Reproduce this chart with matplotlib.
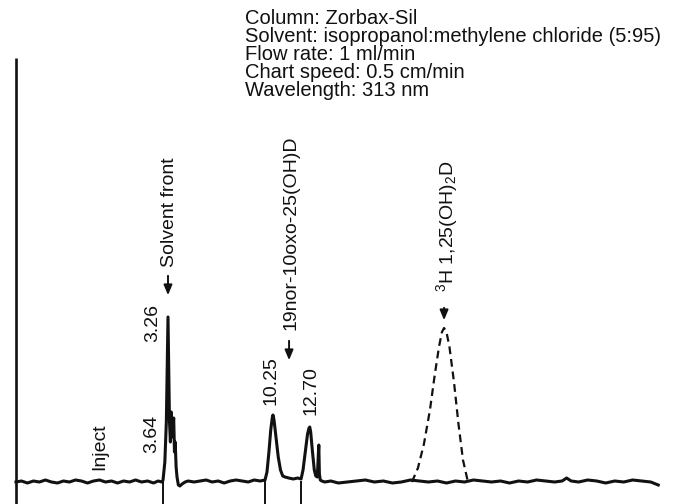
import matplotlib.pyplot as plt

plt.rcParams['font.family'] = ['Liberation Sans', 'DejaVu Sans']
plt.rcParams['mathtext.fontset'] = 'custom'
plt.rcParams['mathtext.rm'] = 'Liberation Sans'

# detector trace (time in min, signal in chart units above baseline)
trace_min = [
    -6.86, -6.5, -6.1, -5.7, -5.3, -4.9, -4.5, -4.1, -3.7, -3.3, -2.9, -2.5, -2.1,
    -1.7, -1.3, -0.9, -0.5, -0.1, 0.3, 0.7, 1.1, 1.5, 1.9, 2.3, 2.6, 2.85,
    2.93, 3.05, 3.15, 3.22, 3.26, 3.30, 3.36, 3.42, 3.48, 3.53, 3.58, 3.64, 3.69,
    3.74, 3.80, 3.86, 3.95, 4.05, 4.2, 4.4,
    4.6, 5.0, 5.4, 5.8, 6.2, 6.6, 7.0, 7.4, 7.8, 8.2, 8.6, 9.0, 9.4, 9.72,
    9.85, 9.98, 10.1, 10.2, 10.25, 10.32, 10.45, 10.6, 10.75, 10.9, 11.05, 11.3,
    11.6, 11.9, 12.12,
    12.25, 12.4, 12.55, 12.65, 12.70, 12.76, 12.88, 13.0, 13.1, 13.2, 13.25, 13.3,
    13.34, 13.4, 13.5, 13.7,
    14.1, 14.6, 15.2, 15.8, 16.4, 17.0, 17.6, 18.2, 18.8, 19.4, 20.0, 20.6, 21.2,
    21.8, 22.4, 23.0, 23.6, 24.2, 24.8, 25.4, 26.0, 26.6, 27.2, 27.8, 28.4, 29.0,
    29.5, 29.8, 30.1, 30.6, 31.2, 31.8, 32.4, 33.0, 33.6, 34.2, 34.8, 35.4, 35.9,
]
trace_signal = [
    0, 1, -1, 1, 0, 2, 0, -1, 1, 0, 2, 1, -1,
    1, 2, 0, 1, -1, 1, 0, 2, 0, 1, -1, 1, 0,
    2, 20, 60, 130, 165, 120, 60, 40, 70, 45, 55, 64, 30,
    40, 15, 5, -3, -4, -2, 0,
    1, 0, 1, 2, 0, 1, -1, 1, 2, 1, 0, 2, 1, 2,
    10, 30, 52, 64, 67, 62, 45, 25, 12, 6, 5, 4,
    3, 4, 3,
    12, 30, 48, 54, 55, 50, 30, 12, 6, 5, 20, 37,
    8, 2, 1, 0,
    1, -1, 0, 1, 2, 0, 1, -1, 0, 2, 1, 0, 1,
    -1, 1, 0, 2, 1, 0, 1, -1, 1, 0, 2, 1, 0,
    1, 4, 1, 0, 2, 1, -1, 1, 0, 2, 1, 0, -3,
]

# radiolabelled standard, drawn dashed
std_min = [19.5, 19.9, 20.3, 20.7, 21.0, 21.3, 21.5, 21.64, 21.8, 22.0, 22.3, 22.6, 22.9, 23.23]
std_signal = [0, 14, 38, 72, 105, 135, 150, 154, 150, 135, 100, 58, 22, 0]

# peak start marks below the baseline
mark_min = [2.93, 9.72, 12.12]

retention_labels = ['3.26', '3.64', '10.25', '12.70']
retention_pos = [(2.26, 140), (2.19, 29), (10.12, 77), (12.78, 67)]

conditions = [
    'Column: Zorbax-Sil',
    'Solvent: isopropanol:methylene chloride (5:95)',
    'Flow rate: 1 ml/min',
    'Chart speed: 0.5 cm/min',
    'Wavelength: 313 nm',
]

fig = plt.figure(figsize=(6.81, 5.04), dpi=100)
ax = fig.add_axes([0, 0, 1, 1])
ax.set_xlim(-7.925, 37.415)
ax.set_ylim(-22, 482)
ax.axis('off')

ink = '#111111'
ax.plot(trace_min, trace_signal, color=ink, lw=2.2, solid_joinstyle='round')
ax.plot(std_min, std_signal, color=ink, lw=1.6, linestyle=(0, (3.5, 2.2)))

# signal axis on the left
ax.vlines(-6.86, -22, 424, color=ink, lw=1.9)
ax.vlines(mark_min, -22, 1, color=ink, lw=1.4)

lab = dict(rotation=90, ha='center', va='bottom', fontsize=14, color=ink)
ax.text(-1.27, 12, 'Inject', **lab)
for txt, (x, y) in zip(retention_labels, retention_pos):
    ax.text(x, y, txt, **lab)

arrow = dict(arrowstyle='-|>,head_length=0.6,head_width=0.25', color=ink, lw=1.4)
ax.annotate('', xy=(3.26, 184), xytext=(3.26, 209), arrowprops=arrow)
ax.text(3.39, 215, 'Solvent front', **lab)
ax.annotate('', xy=(11.32, 119), xytext=(11.32, 144), arrowprops=arrow)
ax.text(11.45, 152, '19nor-10oxo-25(OH)D', **lab)
ax.annotate('', xy=(21.64, 159), xytext=(21.64, 177), arrowprops=arrow)
ax.text(21.84, 190, r'$\mathregular{^3}$H 1,25(OH)$\mathregular{_2}$D', **lab)

for i, line in enumerate(conditions):
    ax.text(8.39, 463 - 17.8 * i, line, ha='left', va='center', fontsize=14.5, color=ink)

fig.savefig('out.png', dpi=100)
